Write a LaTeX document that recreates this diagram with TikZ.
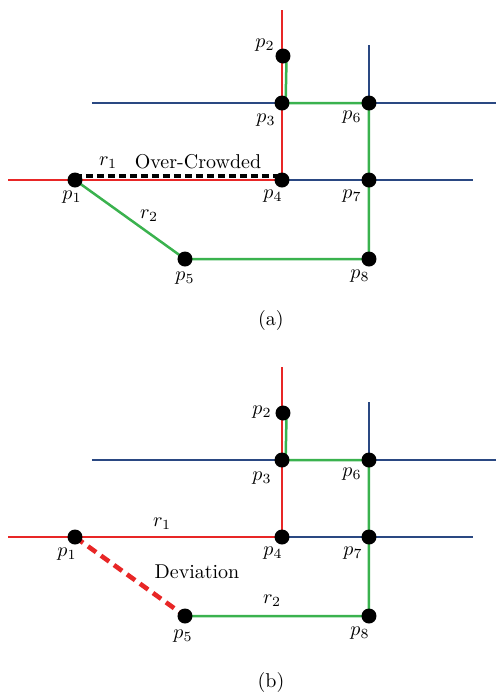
\documentclass[tikz,border=0pt]{standalone}
\usepackage{amsmath}
\usepackage{xcolor}
\usetikzlibrary{positioning}
\definecolor{roadred}{RGB}{232,38,38}
\definecolor{roadgreen}{RGB}{58,178,78}
\definecolor{roadblue}{RGB}{42,72,130}

\begin{document}
\begin{tikzpicture}[x=0.5pt, y=-0.5pt, every node/.style={font=\normalsize},
  dot/.style={circle, fill=black, inner sep=0pt, minimum size=7.5pt},
  blueroad/.style={roadblue, line width=1.25pt},
  greenroad/.style={roadgreen, line width=1.25pt},
  redroad/.style={roadred, line width=1.25pt}]
  \useasboundingbox (0,0) rectangle (496,693);

  % (a) over-crowded route
  \coordinate (a1) at (75,180);  \coordinate (a2) at (283,56);
  \coordinate (a3) at (282,103); \coordinate (a4) at (282,180);
  \coordinate (a5) at (185,259); \coordinate (a6) at (369,103);
  \coordinate (a7) at (369,180); \coordinate (a8) at (369,259);
  \coordinate (aRW) at (8,180);  \coordinate (aRN) at (282,10);
  \coordinate (aBW) at (92,103); \coordinate (aBE) at (496,103);
  \coordinate (aBE2) at (473,180); \coordinate (aBN) at (369,45);
  \draw[blueroad] (aBW) -- (aBE);
  \draw[blueroad] (a4) -- (aBE2);
  \draw[blueroad] (aBN) -- (a6);
  \draw[greenroad] ([xshift=1.8pt]a2) -- ([xshift=1.8pt]a3) -- (a6) -- (a7) -- (a8) -- (a5) -- (a1);
  \draw[redroad] (aRN) -- (a4) -- (aRW);
  \draw[line width=1.7pt, dash pattern=on 3.5pt off 2pt] ([yshift=2pt]a1) -- ([yshift=2pt]a4);
  \foreach \p in {a1,a2,a3,a4,a5,a6,a7,a8} \node[dot] (\p d) at (\p) {};
  \node (a1l) at (72,197) {$p_1$};
  \node (a2l) at (265,45) {$p_2$};
  \node (a3l) at (266,120) {$p_3$};
  \node (a4l) at (273,196) {$p_4$};
  \node (a5l) at (185,278) {$p_5$};
  \node (a6l) at (352,117) {$p_6$};
  \node (a7l) at (352,196) {$p_7$};
  \node (a8l) at (360,276) {$p_8$};
  \node (ar1) at (108,163) {$r_1$};
  \node (acrowd) at (198,162) {Over-Crowded};
  \node (ar2) at (149,216) {$r_2$};
  \node (acap) at (271,320) {(a)};

  % (b) deviation route
  \begin{scope}[shift={(0,357)}]
    \coordinate (b1) at (75,180);  \coordinate (b2) at (283,56);
    \coordinate (b3) at (282,103); \coordinate (b4) at (282,180);
    \coordinate (b5) at (185,259); \coordinate (b6) at (369,103);
    \coordinate (b7) at (369,180); \coordinate (b8) at (369,259);
    \coordinate (bRW) at (8,180);  \coordinate (bRN) at (282,10);
    \coordinate (bBW) at (92,103); \coordinate (bBE) at (496,103);
    \coordinate (bBE2) at (473,180); \coordinate (bBN) at (369,45);
    \draw[blueroad] (bBW) -- (bBE);
    \draw[blueroad] (b4) -- (bBE2);
    \draw[blueroad] (bBN) -- (b6);
    \draw[greenroad] ([xshift=1.8pt]b2) -- ([xshift=1.8pt]b3) -- (b6) -- (b7) -- (b8) -- (b5);
    \draw[redroad] (bRN) -- (b4) -- (bRW);
    \draw[roadred, line width=2.3pt, dash pattern=on 5pt off 3pt] (b1) -- (b5);
    \foreach \p in {b1,b2,b3,b4,b5,b6,b7,b8} \node[dot] (\p d) at (\p) {};
    \node (b1l) at (67,197) {$p_1$};
    \node (b2l) at (262,55) {$p_2$};
    \node (b3l) at (262,121) {$p_3$};
    \node (b4l) at (273,196) {$p_4$};
    \node (b5l) at (183,279) {$p_5$};
    \node (b6l) at (352,117) {$p_6$};
    \node (b7l) at (353,196) {$p_7$};
    \node (b8l) at (360,276) {$p_8$};
    \node (br1) at (162,167) {$r_1$};
    \node (bdev) at (197,215) {Deviation};
    \node (br2) at (272,244) {$r_2$};
    \node (bcap) at (271,325) {(b)};
  \end{scope}
\end{tikzpicture}
\end{document}
